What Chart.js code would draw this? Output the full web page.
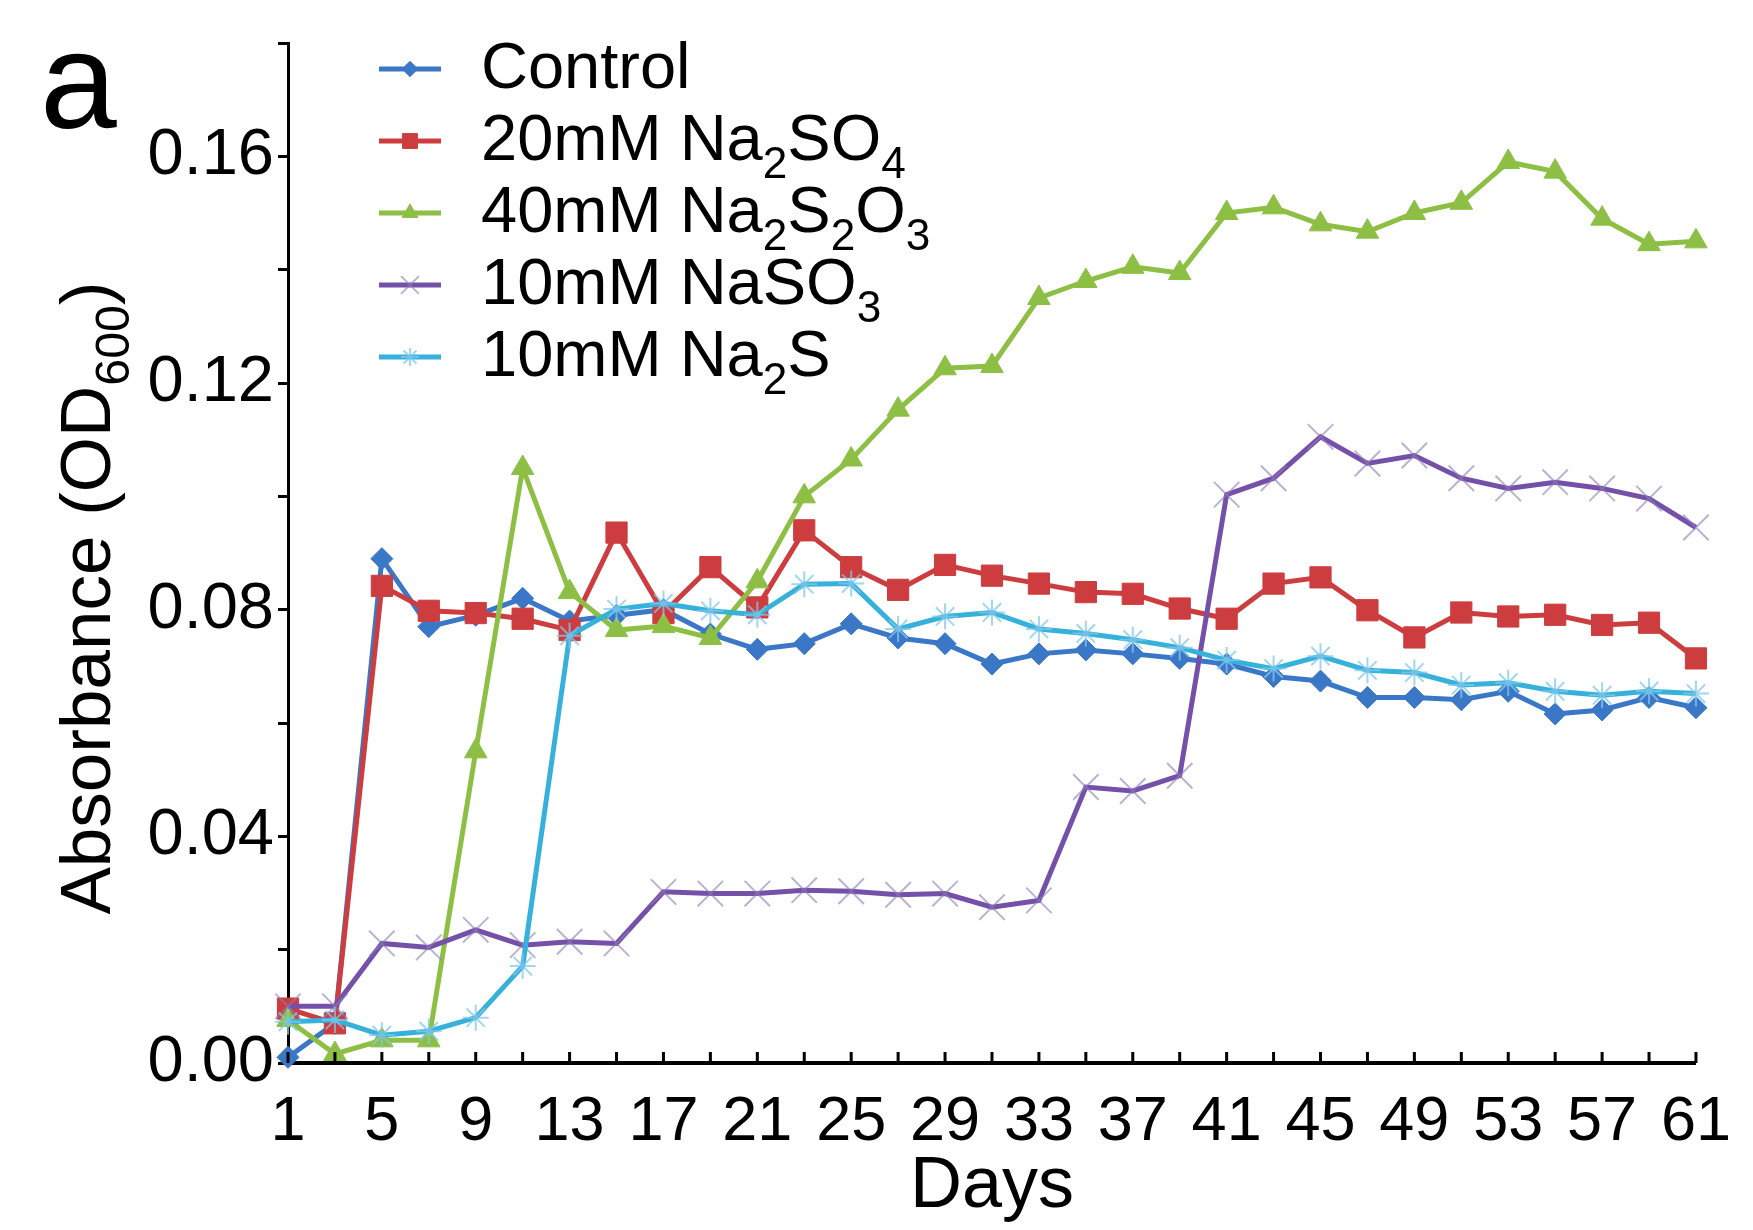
<!DOCTYPE html>
<html>
<head>
<meta charset="utf-8">
<script src="https://cdn.jsdelivr.net/npm/chart.js@4.4.1/dist/chart.umd.min.js"></script>
<style>
html,body{margin:0;padding:0;background:#fff}
#wrap{width:1753px;height:1230px;position:relative}
</style>
</head>
<body>
<div id="wrap"><canvas id="c"></canvas></div>
<script>
// sampling days (every other day)
const days = [1,3,5,7,9,11,13,15,17,19,21,23,25,27,29,31,33,35,37,39,41,43,45,47,49,51,53,55,57,59,61];
const seriesNames = ['Control', '20mM Na₂SO₄', '40mM Na₂S₂O₃', '10mM NaSO₃', '10mM Na₂S'];

const control = [0.001, 0.007, 0.089, 0.077, 0.079, 0.082, 0.078, 0.079, 0.080, 0.0757, 0.073, 0.074,
  0.0775, 0.075, 0.074, 0.0704, 0.0722, 0.0729, 0.0722, 0.0714, 0.0704, 0.0682, 0.0674, 0.0645, 0.0645,
  0.0641, 0.0656, 0.0616, 0.0623, 0.0645, 0.0627];
const sulfate = [0.0096, 0.007, 0.0842, 0.0798, 0.0794, 0.0784, 0.0764, 0.0936, 0.0794, 0.0875, 0.0804, 0.094,
  0.0875, 0.0835, 0.0879, 0.086, 0.0846, 0.0831, 0.0828, 0.0802, 0.0784, 0.0846, 0.0857, 0.0799, 0.0751,
  0.0795, 0.0788, 0.0791, 0.0773, 0.0777, 0.0714];
const thiosulfate = [0.0076, 0.0016, 0.004, 0.004, 0.055, 0.105, 0.0831, 0.0764, 0.0771, 0.075, 0.085, 0.100,
  0.1065, 0.1153, 0.1226, 0.123, 0.135, 0.138, 0.1405, 0.1394, 0.150, 0.151, 0.148, 0.1467, 0.150,
  0.1518, 0.159, 0.1573, 0.149, 0.1445, 0.145];
const sulfite = [0.010, 0.010, 0.0211, 0.0204, 0.0235, 0.0208, 0.0214, 0.0211, 0.0302, 0.0299, 0.0299, 0.0305,
  0.0303, 0.0297, 0.0299, 0.0275, 0.0287, 0.0487, 0.048, 0.0507, 0.1003, 0.1032, 0.1105, 0.1058, 0.1072,
  0.1032, 0.1014, 0.1025, 0.1014, 0.0996, 0.0945];
const sulfide = [0.0073, 0.0076, 0.0049, 0.0056, 0.008, 0.0171, 0.0754, 0.0801, 0.0811, 0.0798, 0.0791, 0.0845,
  0.0846, 0.0766, 0.0788, 0.0795, 0.0766, 0.0758, 0.0747, 0.0733, 0.0711, 0.0696, 0.0718, 0.0693, 0.0689,
  0.0667, 0.0671, 0.0656, 0.0649, 0.0656, 0.0652];

const FONT = "'Liberation Sans', Arial, sans-serif";
const SUB = 0.68;

// text with unicode subscript digits drawn as small lowered digits
function richParts(str) {
  const parts = [];
  for (const ch of str) {
    const c = ch.codePointAt(0);
    const sub = c >= 0x2080 && c <= 0x2089;
    const t = sub ? String(c - 0x2080) : ch;
    const last = parts[parts.length - 1];
    if (last && last.sub === sub) last.t += t; else parts.push({ t, sub });
  }
  return parts;
}
function richWidth(ctx, str, size) {
  let w = 0;
  richParts(str).forEach(p => {
    ctx.font = (p.sub ? size * SUB : size) + 'px ' + FONT;
    w += ctx.measureText(p.t).width;
  });
  return w;
}
function drawRich(ctx, str, x, y, size) {
  let cx = x;
  ctx.textBaseline = 'alphabetic';
  ctx.textAlign = 'left';
  richParts(str).forEach(p => {
    ctx.font = (p.sub ? size * SUB : size) + 'px ' + FONT;
    ctx.fillText(p.t, cx, p.sub ? y + size * 0.27 : y);
    cx += ctx.measureText(p.t).width;
  });
}

function ds(i, data, color, style, radius, ptColor, ptBorder) {
  return {
    label: seriesNames[i], data,
    borderColor: color, borderWidth: 5,
    pointStyle: style, pointRadius: radius, pointHoverRadius: radius,
    pointBackgroundColor: ptColor, pointBorderColor: ptColor, pointBorderWidth: ptBorder,
    tension: 0, fill: false, clip: false, order: 5 - i
  };
}

const extras = {
  id: 'extras',
  afterDraw(chart) {
    const { ctx, chartArea } = chart;
    const xs = chart.scales.x;
    ctx.save();
    // inward x ticks
    ctx.strokeStyle = '#000'; ctx.lineWidth = 3;
    ctx.beginPath();
    days.forEach((d, i) => {
      const px = xs.getPixelForTick(i);
      ctx.moveTo(px, chartArea.bottom); ctx.lineTo(px, chartArea.bottom - 11);
    });
    ctx.stroke();

    // legend
    chart.data.datasets.forEach((d, i) => {
      const y = chartArea.top + 26 + i * 72;
      const x0 = chartArea.left + 91, x1 = chartArea.left + 153;
      ctx.strokeStyle = d.borderColor; ctx.lineWidth = 5;
      ctx.beginPath(); ctx.moveTo(x0, y); ctx.lineTo(x1, y); ctx.stroke();
      ctx.fillStyle = d.pointBackgroundColor; ctx.strokeStyle = d.pointBorderColor;
      ctx.lineWidth = d.pointBorderWidth;
      Chart.helpers.drawPoint(ctx, { pointStyle: d.pointStyle, radius: d.pointRadius * 0.7, borderWidth: d.pointBorderWidth, rotation: 0 }, (x0 + x1) / 2, y);
      ctx.fillStyle = '#000';
      drawRich(ctx, d.label, chartArea.left + 193, y + 19, 65);
    });

    // y title
    ctx.fillStyle = '#000';
    const title = 'Absorbance (OD₆₀₀)';
    ctx.translate(85, 598);
    ctx.rotate(-Math.PI / 2);
    const w = richWidth(ctx, title, 71);
    drawRich(ctx, title, -w / 2, 25, 71);
    ctx.setTransform(1, 0, 0, 1, 0, 0);

    // panel letter
    ctx.font = '138px ' + FONT;
    ctx.fillText('a', 40, 128);
    ctx.restore();
  }
};

new Chart(document.getElementById('c'), {
  type: 'line',
  data: {
    labels: days,
    datasets: [
      ds(0, control, '#3a77c6', 'rectRot', 11, '#3a77c6', 1),
      ds(1, sulfate, '#cd3d3f', 'rect', 15, '#cd3d3f', 1),
      ds(2, thiosulfate, '#8dbf45', 'triangle', 13, '#8dbf45', 1),
      ds(3, sulfite, '#7550a8', 'crossRot', 18, 'rgba(140,125,185,0.6)', 2),
      ds(4, sulfide, '#35b1da', 'star', 13, 'rgba(130,200,235,0.75)', 2)
    ]
  },
  options: {
    responsive: true, maintainAspectRatio: false, animation: false,
    layout: { padding: { top: 40, right: 41, left: 0, bottom: 0 } },
    plugins: { legend: { display: false } },
    scales: {
      x: {
        offset: false,
        grid: { display: true, drawOnChartArea: false, drawTicks: false },
        border: { color: '#000', width: 4 },
        ticks: {
          autoSkip: false, maxRotation: 0, padding: 22, color: '#000',
          font: { family: FONT, size: 63 },
          callback(v, i) { return i % 2 === 0 ? this.getLabelForValue(v) : ''; }
        },
        title: { display: true, text: 'Days', color: '#000', font: { family: FONT, size: 72 }, padding: 0 },
        afterFit(s) { s.height = 167; }
      },
      y: {
        min: 0, max: 0.18,
        grid: { drawOnChartArea: false, drawTicks: true, tickLength: 10, color: '#000', lineWidth: 3 },
        border: { color: '#000', width: 3 },
        ticks: {
          stepSize: 0.02, padding: 4, color: '#000',
          font: { family: FONT, size: 65 },
          callback(v) { return Math.round(v * 100) % 4 === 0 ? v.toFixed(2) : ''; }
        },
        afterFit(s) { s.width = 288; }
      }
    }
  },
  plugins: [extras]
});
</script>
</body>
</html>
